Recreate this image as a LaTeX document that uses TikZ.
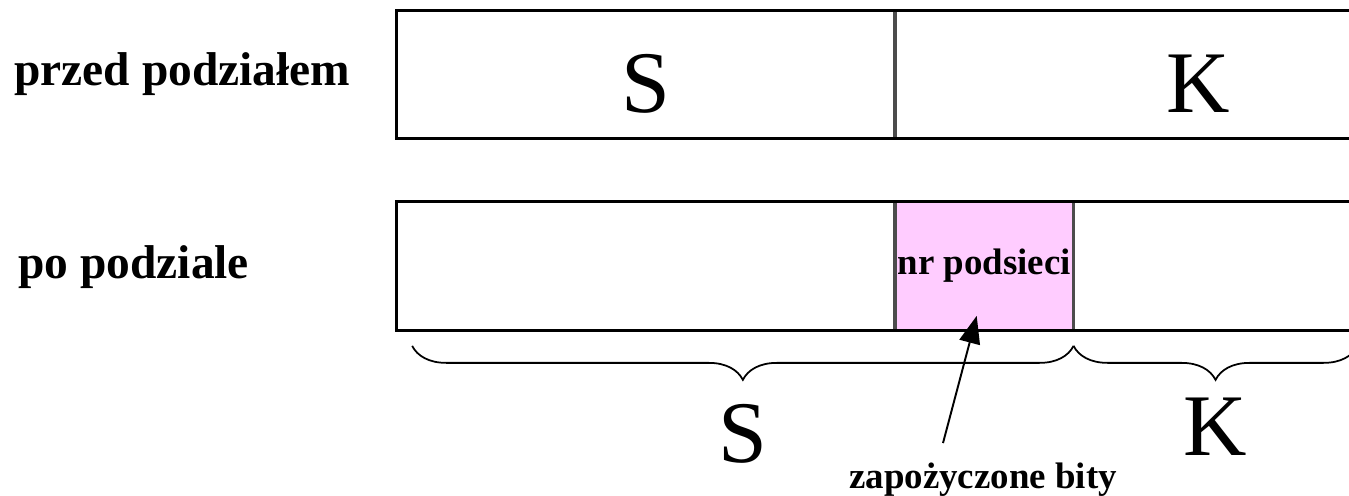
\documentclass[tikz,border=0pt]{standalone}
\usepackage{fontspec}
\setmainfont{Liberation Serif}
\usetikzlibrary{arrows.meta,positioning,calc,decorations.pathreplacing}

\definecolor{subnetpink}{HTML}{FFCCFF}

\begin{document}
\begin{tikzpicture}[
    x=0.02cm, y=-0.02cm,
    cell/.style={draw=black!70, line width=1pt, minimum height=2.56cm, inner sep=0pt},
    frame/.style={line width=1.7pt},
    big/.style={font=\fontsize{50}{60}\selectfont},
    side/.style={font=\fontsize{27}{32}\selectfont\bfseries, anchor=base west, inner sep=0pt},
    small/.style={font=\fontsize{21}{25}\selectfont\bfseries, inner sep=0pt},
    brace/.style={decorate, decoration={brace, mirror, amplitude=0.68cm}, line width=1pt},
    arrow/.style={-{Triangle[length=0.55cm, width=0.42cm]}, line width=1.1pt}
]
\useasboundingbox (0,0) rectangle (1349,495);
\clip (0,0) rectangle (1349,495);

% Address before subnetting
\node[cell, minimum width=9.94cm, minimum height=2.54cm, text height=1.52cm, big] (oldS) at (645.5,74.5) {S};
\node[cell, minimum width=12.12cm, minimum height=2.54cm, text height=1.52cm, big, right=0pt of oldS] (oldK) {K};
\draw[frame] (oldK.north east) -| (oldS.south west) -- (oldK.south east);

% Address after subnetting
\node[cell, minimum width=9.94cm] (newS) at (645.5,266) {};
\node[cell, minimum width=3.54cm, fill=subnetpink, small, right=0pt of newS] (subnet) {nr podsieci};
\node[cell, minimum width=8.58cm, right=0pt of subnet] (newK) {};
\draw[frame] (newK.north east) -| (newS.south west) -- (newK.south east);

% Row labels
\node[side] (before) at (14,85) {przed podziałem};
\node[side] (after) at (18,278) {po podziale};

% Braces under the new address
\coordinate (braceL) at ($(newS.south west)+(16,15)$);
\coordinate (braceM) at ($(subnet.south east)+(0,15)$);
\coordinate (braceR) at ($(newK.south west)+(284,15)$);
\draw[brace] (braceL) -- (braceM) node[big, midway, yshift=-1.76cm] (partS) {S};
\draw[brace] (braceM) -- (braceR) node[big, midway, yshift=-1.62cm] (partK) {K};

% Borrowed bits
\node[small, anchor=base] (borrowed) at (983,488) {zapożyczone bity};
\draw[arrow] ($(borrowed.north)+(-40,-19)$) -- ($(subnet.south)+(-7.5,-15)$);

\end{tikzpicture}
\end{document}
